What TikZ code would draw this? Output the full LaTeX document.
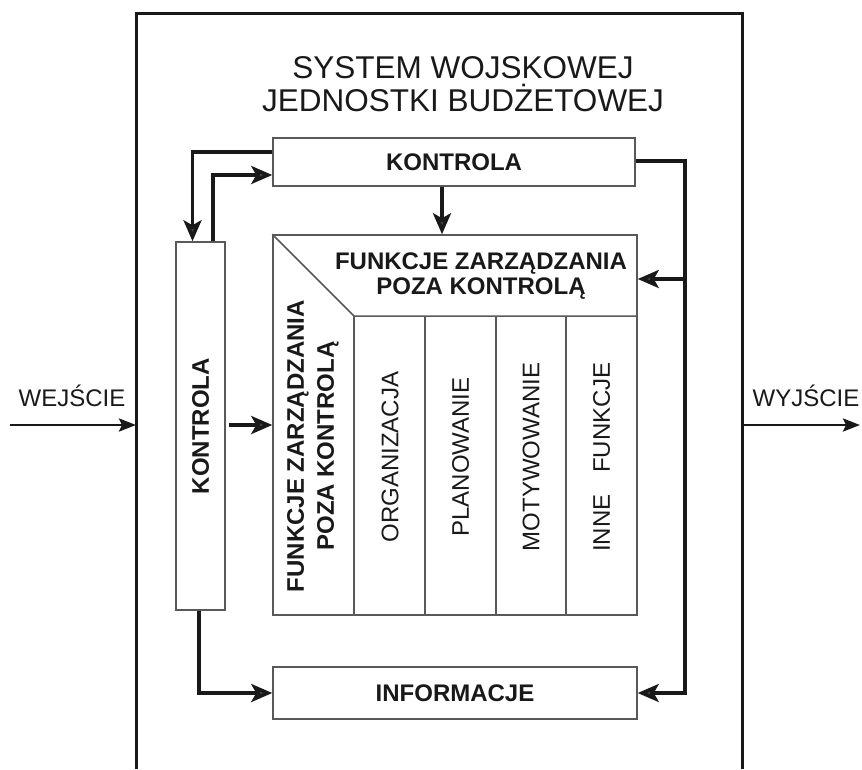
\documentclass[tikz,border=0pt]{standalone}
\usepackage{fontspec}
\setmainfont{Liberation Sans}
\usetikzlibrary{arrows.meta,calc}
\begin{document}
\begin{tikzpicture}[x=1pt,y=-1pt,
  box/.style={draw=black!65, line width=1.5pt, inner sep=0pt, fill=white},
  conn/.style={draw=black!90, line width=3.6pt, line join=miter,
    -{Stealth[length=21pt,width=18pt,inset=5pt,fill=black!70]}},
  io/.style={draw=black!90, line width=2.8pt,
    -{Stealth[length=17pt,width=13pt,inset=3pt]}},
  frame/.style={draw=black!90, line width=3pt},
  bold/.style={font=\fontsize{24}{26}\selectfont\bfseries, text=black!90, inner sep=0pt},
  reg/.style={font=\fontsize{24}{26}\selectfont, text=black!90, inner sep=0pt},
  titlef/.style={font=\fontsize{31.5}{33}\selectfont, text=black!90, align=center, inner sep=0pt},
  thin/.style={draw=black!65, line width=1.5pt}
]
\useasboundingbox (0,0) rectangle (862,769);

% outer frame
\coordinate (fl) at (136,425);
\coordinate (fr) at (742,425);
\draw[frame] (136,769) -- (136,13) -- (742,13) -- (742,769);

% title
\node[titlef] (title) at (463,84) {SYSTEM WOJSKOWEJ\\JEDNOSTKI BUDŻETOWEJ};

% boxes
\node[box, minimum width=362pt, minimum height=48pt] (kt) at (454,162) {};
\node[bold] at (kt.center) {KONTROLA};
\node[box, minimum width=49pt, minimum height=368pt] (kl) at (200.5,426) {};
\node[bold, rotate=90] at (kl.center) {KONTROLA};
\node[box, minimum width=364pt, minimum height=380pt] (fz) at (455,425) {};
\node[box, minimum width=364pt, minimum height=52pt] (info) at (455,693) {};
\node[bold] at (info.center) {INFORMACJE};

% inner structure of the functions box
\coordinate (hc) at (354,316);
\coordinate (c2) at (425,316);
\coordinate (c3) at (496,316);
\coordinate (c4) at (566,316);
\draw[thin] (fz.north west) -- (hc) -- (hc -| fz.east);
\draw[thin] (hc) -- (hc |- fz.south);
\draw[thin] (c2) -- (c2 |- fz.south);
\draw[thin] (c3) -- (c3 |- fz.south);
\draw[thin] (c4) -- (c4 |- fz.south);

\node[bold, align=center, font=\fontsize{24}{25}\selectfont\bfseries] (fzh) at (481,276) {FUNKCJE ZARZĄDZANIA\\POZA KONTROLĄ};
\node[bold, align=center, rotate=90, font=\fontsize{24}{30}\selectfont\bfseries] (fzv) at (313,446) {FUNKCJE ZARZĄDZANIA\\POZA KONTROLĄ};
\node[reg, rotate=90] (org) at (390,457) {ORGANIZACJA};
\node[reg, rotate=90] (pla) at (460.5,457) {PLANOWANIE};
\node[reg, rotate=90] (mot) at (531,457) {MOTYWOWANIE};
\node[reg, rotate=90] (inn) at (601.5,457) {INNE\hspace{0.9em}FUNKCJE};

% connectors
\coordinate (mid) at (0,425);
\draw[conn] ([yshift=10pt]kt.west) -| ([xshift=-8pt]kl.north);
\draw[conn] ([xshift=12.5pt]kl.north) |- ([yshift=-13pt]kt.west);
\draw[conn] ([xshift=-12pt]kt.south) -- ([xshift=-12pt]kt.south |- fz.north);
\coordinate (rt) at (685,161);
\coordinate (rb) at (685,693);
\coordinate (rbr) at (685,279);
\draw[conn] (rt -| kt.east) -- (rt) -- (rb) -- (info.east);
\draw[conn] (rbr) -- (rbr -| fz.east);
\draw[conn, shorten <=3pt] (kl.east |- mid) -- (fz.west |- mid);
\draw[conn] ([xshift=-1.5pt]kl.south) |- (info.west);

% input / output
\coordinate (in) at (10,425);
\coordinate (out) at (860,425);
\draw[io] (in) -- (fl);
\draw[io] (fr) -- (out);
\node[reg] (win) at (72,396) {WEJŚCIE};
\node[reg] (wout) at (806,396) {WYJŚCIE};
\end{tikzpicture}
\end{document}
